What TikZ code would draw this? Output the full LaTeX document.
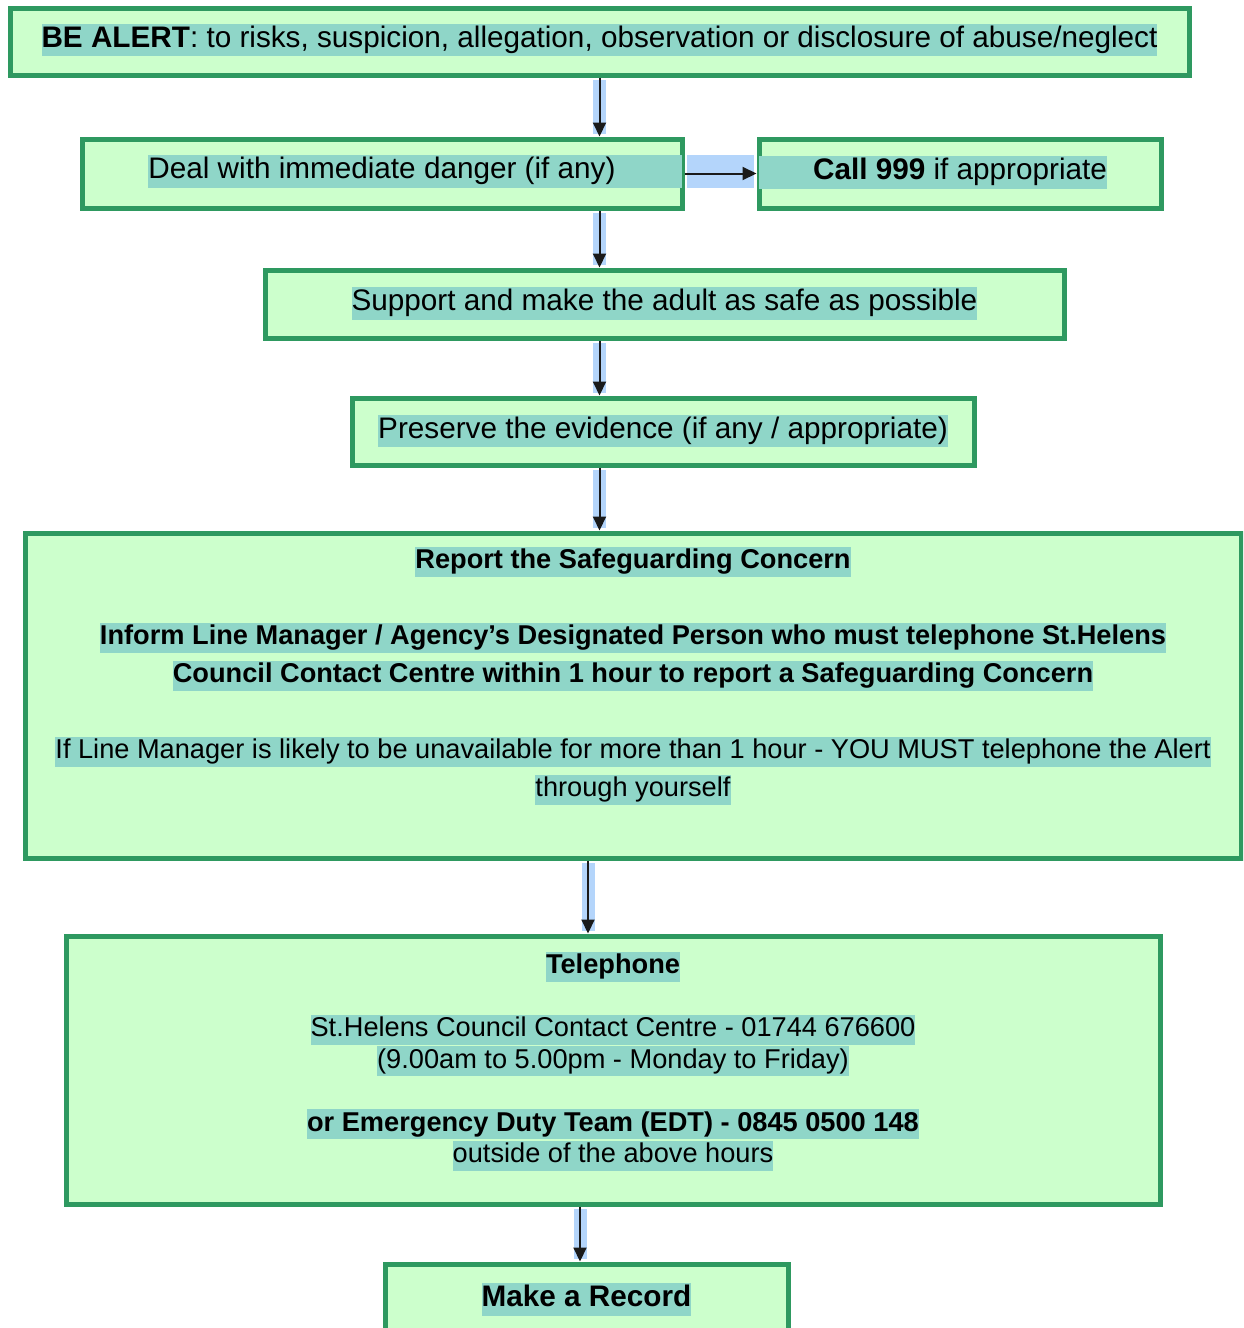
\documentclass[tikz,border=0pt]{standalone}
\usepackage{fontspec}
\setmainfont{Liberation Sans}
\usetikzlibrary{arrows.meta,positioning}
\definecolor{boxfill}{HTML}{CCFFCC}
\definecolor{boxline}{HTML}{2E9960}
\definecolor{selteal}{HTML}{8FD6C8}
\definecolor{selblue}{HTML}{B4D5FB}
\definecolor{arrowink}{HTML}{1A1A1A}
% selected-text highlight, one line at a time
\newcommand{\hlsel}[1]{{\setlength{\fboxsep}{0pt}\colorbox{selteal}{\rule[-0.3em]{0pt}{1.1em}#1}}}
\tikzset{
  stepbox/.style={draw=boxline, fill=boxfill, line width=2.5pt, inner sep=0pt},
  steptext/.style={inner sep=0pt, align=center, font={\fontsize{14.85}{19}\selectfont\lineskiplimit=-50pt}},
  smalltext/.style={steptext, font={\fontsize{13.6}{#1}\selectfont\lineskiplimit=-50pt}},
  flow/.style={draw=arrowink, line width=1pt, -{Triangle[width=6.5pt,length=7pt]},
    preaction={draw=selblue, line width=6.5pt, -, shorten <=1.25pt, shorten >=1.25pt}},
}
\begin{document}
\begin{tikzpicture}[x=0.5pt,y=-0.5pt]
\useasboundingbox (0,0) rectangle (1243,1328);
\clip (0,0) rectangle (1243,1328);
% Boxes
\node[stepbox, minimum width=589.5pt, minimum height=33.5pt] (alert) at (599.5,41.5) {};
\node[stepbox, minimum width=300pt, minimum height=34.5pt] (deal) at (382,173.5) {};
\node[stepbox, minimum width=201pt, minimum height=34.5pt] (call) at (960,173.5) {};
\node[stepbox, minimum width=399.5pt, minimum height=34pt] (support) at (664.5,304) {};
\node[stepbox, minimum width=311pt, minimum height=33.5pt] (preserve) at (663,431.5) {};
\node[stepbox, minimum width=608pt, minimum height=162.5pt] (report) at (633,695.5) {};
\node[stepbox, minimum width=547pt, minimum height=134pt] (phone) at (613,1070) {};
\node[stepbox, minimum width=201.5pt, minimum height=34pt] (record) at (586.5,1298) {};
% Texts
\node[steptext] (alerttxt) at ([yshift=0.75pt]alert.center)
  {\hlsel{\textbf{BE ALERT}: to risks, suspicion, allegation, observation or disclosure of abuse/neglect}};
\node[steptext] (dealtxt) at ([yshift=1pt]deal.center) {\hlsel{Deal with immediate danger (if any)}};
\node[steptext] (calltxt) at ([yshift=0.5pt]call.center) {\hlsel{\textbf{Call 999} if appropriate}};
\node[steptext] (supporttxt) at ([yshift=0.25pt]support.center) {\hlsel{Support and make the adult as safe as possible}};
\node[steptext] (preservetxt) at ([yshift=0.25pt]preserve.center) {\hlsel{Preserve the evidence (if any / appropriate)}};
\node[smalltext=19, anchor=north] (reporttxt) at ([yshift=-8pt]report.north)
  {\textbf{\hlsel{Report the Safeguarding Concern}}\\[19pt]
   \textbf{\hlsel{Inform Line Manager / Agency’s Designated Person who must telephone St.Helens}}\\
   \textbf{\hlsel{Council Contact Centre within 1 hour to report a Safeguarding Concern}}\\[19pt]
   \hlsel{If Line Manager is likely to be unavailable for more than 1 hour - YOU MUST telephone the Alert}\\
   \hlsel{through yourself}};
\node[smalltext=15.75, anchor=north] (phonetxt) at ([yshift=-9pt]phone.north)
  {\textbf{\hlsel{Telephone}}\\[15.75pt]
   \hlsel{St.Helens Council Contact Centre - 01744 676600}\\
   \hlsel{(9.00am to 5.00pm - Monday to Friday)}\\[15.75pt]
   \textbf{\hlsel{or Emergency Duty Team (EDT) - 0845 0500 148}}\\
   \hlsel{outside of the above hours}};
\node[steptext] (recordtxt) at ([yshift=-0.75pt]record.center) {\textbf{\hlsel{Make a Record}}};
% Selection band across the side branch
\fill[selteal] (dealtxt.north east) rectangle ([xshift=-1.25pt]deal.east |- dealtxt.south);
\fill[selblue] ([xshift=1.25pt]deal.east |- dealtxt.north) rectangle ([xshift=-1.25pt]call.west |- dealtxt.south);
\fill[selteal] ([xshift=1.25pt]call.west |- calltxt.north) rectangle (calltxt.south west);
% Arrows
\draw[flow] (alert.south) -- (alert.south |- deal.north);
\draw[flow] (deal.east) -- (call.west);
\draw[flow] (deal.south -| alert.south) -- (support.north -| alert.south);
\draw[flow] (support.south -| alert.south) -- (preserve.north -| alert.south);
\draw[flow] (preserve.south -| alert.south) -- (report.north -| alert.south);
\draw[flow] ([xshift=-22.5pt]report.south) -- ([xshift=-22.5pt]report.south |- phone.north);
\draw[flow] ([xshift=-3.25pt]record.north |- phone.south) -- ([xshift=-3.25pt]record.north);
\end{tikzpicture}
\end{document}
